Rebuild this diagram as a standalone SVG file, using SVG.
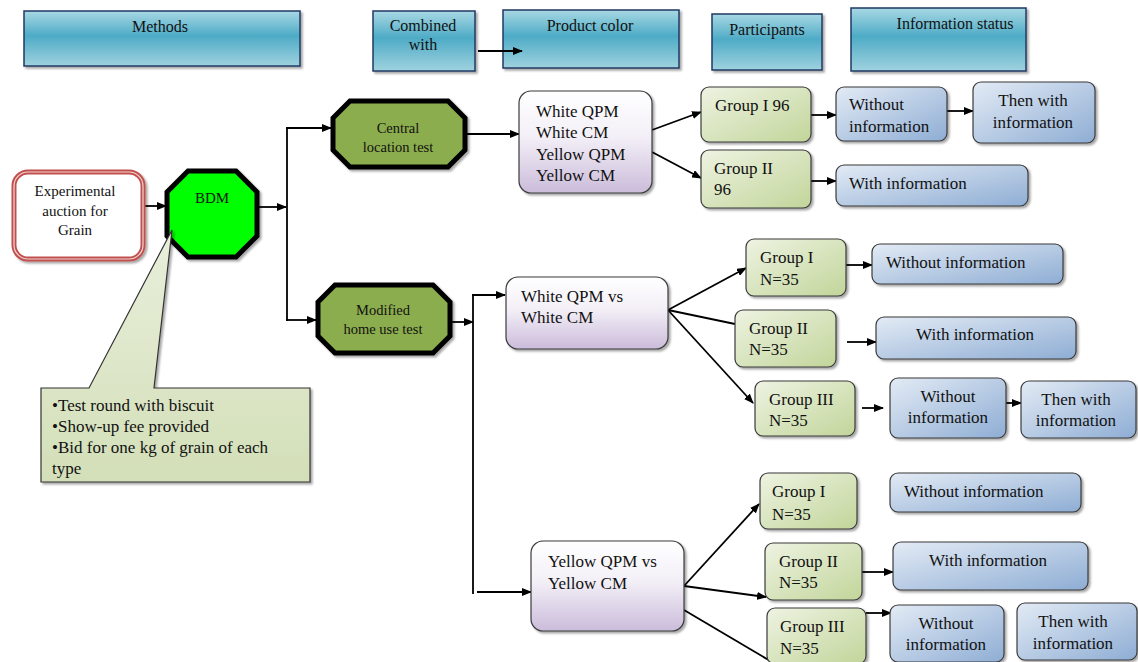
<svg xmlns="http://www.w3.org/2000/svg" width="1138" height="662" viewBox="0 0 1138 662">
<defs>
<linearGradient id="gHead" x1="0" y1="0" x2="0" y2="1">
<stop offset="0" stop-color="#a8d8e4"/><stop offset="0.45" stop-color="#4eabc6"/><stop offset="1" stop-color="#9fd2df"/>
</linearGradient>
<linearGradient id="gProd" x1="0" y1="0" x2="0" y2="1">
<stop offset="0" stop-color="#ffffff"/><stop offset="0.45" stop-color="#f3eff7"/><stop offset="1" stop-color="#cbbcdb"/>
</linearGradient>
<linearGradient id="gGrp" x1="0" y1="0" x2="1" y2="1">
<stop offset="0" stop-color="#eef3e2"/><stop offset="1" stop-color="#c2d59a"/>
</linearGradient>
<linearGradient id="gInfo" x1="0" y1="0" x2="1" y2="1">
<stop offset="0" stop-color="#e3ebf5"/><stop offset="1" stop-color="#8eadd4"/>
</linearGradient>
<linearGradient id="gCall" x1="0" y1="0" x2="0" y2="1">
<stop offset="0" stop-color="#e9efdc"/><stop offset="1" stop-color="#d3dfb8"/>
</linearGradient>
<filter id="sh" x="-10%" y="-10%" width="125%" height="130%">
<feDropShadow dx="2" dy="2" stdDeviation="1.2" flood-color="#000" flood-opacity="0.35"/>
</filter>
<marker id="ah" markerWidth="10" markerHeight="8" refX="9" refY="4" orient="auto" markerUnits="userSpaceOnUse">
<path d="M0,0 L10,4 L0,8 Z" fill="#000"/>
</marker>
</defs>
<style>
text{font-family:"Liberation Serif","Times New Roman",serif;fill:#111;}
.hd{fill:url(#gHead);stroke:#1f3864;stroke-width:1.5;filter:url(#sh);}
.hdt{font-size:16px;text-anchor:middle;}
.prod{fill:url(#gProd);stroke:#3a3a3a;stroke-width:1.2;filter:url(#sh);}
.grp{fill:url(#gGrp);stroke:#3a3a3a;stroke-width:1.2;filter:url(#sh);}
.info{fill:url(#gInfo);stroke:#3a3a3a;stroke-width:1.2;filter:url(#sh);}
.t{font-size:17px;}
.tm{font-size:17px;text-anchor:middle;}
.oct{fill:#8cad4e;stroke:#000;stroke-width:5;stroke-linejoin:miter;filter:url(#sh);}
.ot{font-size:14.5px;text-anchor:middle;}
.c{fill:none;stroke:#000;stroke-width:1.8;}
.ca{fill:none;stroke:#000;stroke-width:1.8;marker-end:url(#ah);}
.ex{font-size:15px;text-anchor:middle;}
.cl{font-size:17px;}
</style>

<g id="h-methods"><rect class="hd" x="24" y="11" width="276" height="55"/><text class="hdt" x="160" y="32">Methods</text></g>
<g id="h-combined"><rect class="hd" x="373" y="11" width="102" height="60"/><text class="hdt" x="423" y="31">Combined</text><text class="hdt" x="423" y="50">with</text></g>
<g id="h-product"><rect class="hd" x="503" y="10" width="176" height="58"/><text class="hdt" x="590" y="31">Product color</text></g>
<g id="h-participants"><rect class="hd" x="712" y="14" width="110" height="56"/><text class="hdt" x="767" y="35">Participants</text></g>
<g id="h-info"><rect class="hd" x="851" y="8" width="175" height="63"/><text class="hdt" x="955" y="29">Information  status</text></g>

<g id="connectors">
<line class="ca" x1="478" y1="51" x2="522" y2="51"/>
<line class="ca" x1="135" y1="206" x2="166" y2="206"/>
<line class="ca" x1="258" y1="207" x2="286" y2="207"/>
<line class="c" x1="287" y1="128" x2="287" y2="321"/>
<line class="ca" x1="286" y1="128" x2="331" y2="128"/>
<line class="ca" x1="286" y1="320" x2="316" y2="320"/>
<line class="ca" x1="467" y1="134" x2="519" y2="134"/>
<line class="ca" x1="652" y1="130" x2="701" y2="112"/>
<line class="ca" x1="652" y1="152" x2="701" y2="178"/>
<line class="ca" x1="811" y1="115" x2="836" y2="115"/>
<line class="ca" x1="947" y1="111" x2="973" y2="111"/>
<line class="ca" x1="811" y1="181" x2="836" y2="181"/>
<line class="ca" x1="452" y1="322" x2="473" y2="322"/>
<line class="c" x1="473" y1="294" x2="473" y2="594"/>
<line class="ca" x1="472" y1="295" x2="505" y2="295"/>
<line class="ca" x1="477" y1="592" x2="531" y2="592"/>
<line class="ca" x1="668" y1="310" x2="746" y2="268"/>
<line class="c" x1="668" y1="310" x2="735" y2="324"/>
<line class="ca" x1="668" y1="310" x2="753" y2="403"/>
<line class="ca" x1="846" y1="265" x2="872" y2="265"/>
<line class="ca" x1="847" y1="342" x2="876" y2="342"/>
<line class="ca" x1="862" y1="408" x2="883" y2="408"/>
<line class="ca" x1="992" y1="403" x2="1021" y2="403"/>
<line class="ca" x1="684" y1="586" x2="759" y2="504"/>
<line class="ca" x1="684" y1="586" x2="766" y2="597"/>
<line class="c" x1="684" y1="610" x2="772" y2="662"/>
<line class="ca" x1="862" y1="572" x2="893" y2="572"/>
<line class="ca" x1="866" y1="613" x2="891" y2="613"/>
</g>

<g id="experimental">
<rect x="14" y="172" width="129" height="87" rx="14" fill="#fff" stroke="#c0504d" stroke-width="5" filter="url(#sh)"/>
<rect x="14" y="172" width="129" height="87" rx="14" fill="none" stroke="#f3d6d5" stroke-width="1.2"/>
<text class="ex" x="75" y="196">Experimental</text>
<text class="ex" x="75" y="216">auction for</text>
<text class="ex" x="75" y="235">Grain</text>
</g>

<g id="bdm">
<polygon points="188,171 236,171 257,192 257,236 236,257 188,257 167,236 167,192" fill="#00ff00" stroke="#000" stroke-width="5" filter="url(#sh)"/>
<text x="212" y="203" style="font-size:15px;text-anchor:middle">BDM</text>
</g>

<g id="callout">
<path d="M172,230 L154,388 L310,388 L310,482 L41,482 L41,388 L89,388 Z" fill="url(#gCall)" stroke="#333" stroke-width="1.2" filter="url(#sh)"/>
<text class="cl" x="52" y="411">•Test round  with biscuit</text>
<text class="cl" x="52" y="432">•Show-up  fee provided</text>
<text class="cl" x="52" y="453">•Bid  for one kg  of grain  of each</text>
<text class="cl" x="52" y="474">type</text>
</g>

<g id="central">
<polygon class="oct" points="350,101 448,101 465,118 465,150 448,167 350,167 333,150 333,118"/>
<text class="ot" x="398" y="133">Central</text>
<text class="ot" x="398" y="152">location test</text>
</g>

<g id="modified">
<polygon class="oct" points="335,285 433,285 450,302 450,336 433,353 335,353 318,336 318,302"/>
<text class="ot" x="383" y="315">Modified</text>
<text class="ot" x="383" y="334">home use test</text>
</g>

<g id="prod-all">
<rect class="prod" x="519" y="91" width="133" height="102" rx="12"/>
<text class="t" x="536" y="117">White QPM</text>
<text class="t" x="536" y="138">White CM</text>
<text class="t" x="536" y="160">Yellow QPM</text>
<text class="t" x="536" y="181">Yellow CM</text>
</g>

<g id="g1-96"><rect class="grp" x="701" y="87" width="110" height="55" rx="8"/><text class="t" x="715" y="111">Group I 96</text></g>
<g id="g2-96"><rect class="grp" x="701" y="150" width="110" height="58" rx="8"/><text class="t" x="714" y="174">Group II</text><text class="t" x="714" y="195">96</text></g>
<g id="c-without"><rect class="info" x="836" y="87" width="111" height="54" rx="8"/><text class="t" x="849" y="110">Without</text><text class="t" x="849" y="132">information</text></g>
<g id="c-then"><rect class="info" x="973" y="82" width="122" height="61" rx="8"/><text class="tm" x="1033" y="106">Then with</text><text class="tm" x="1033" y="128">information</text></g>
<g id="c-with"><rect class="info" x="836" y="165" width="192" height="41" rx="8"/><text class="t" x="849" y="189">With information</text></g>

<g id="prod-white">
<rect class="prod" x="506" y="277" width="162" height="72" rx="12"/>
<text class="t" x="521" y="302">White QPM vs</text>
<text class="t" x="521" y="323">White CM</text>
</g>
<g id="w-g1"><rect class="grp" x="746" y="239" width="100" height="57" rx="8"/><text class="t" x="760" y="263">Group I</text><text class="t" x="760" y="285">N=35</text></g>
<g id="w-g1-info"><rect class="info" x="872" y="244" width="191" height="40" rx="8"/><text class="t" x="886" y="268">Without information</text></g>
<g id="w-g2"><rect class="grp" x="735" y="310" width="101" height="57" rx="8"/><text class="t" x="749" y="334">Group II</text><text class="t" x="749" y="355">N=35</text></g>
<g id="w-g2-info"><rect class="info" x="876" y="317" width="200" height="42" rx="8"/><text class="tm" x="975" y="340">With information</text></g>
<g id="w-g3"><rect class="grp" x="755" y="381" width="100" height="55" rx="8"/><text class="t" x="769" y="405">Group III</text><text class="t" x="769" y="426">N=35</text></g>
<g id="w-g3-without"><rect class="info" x="890" y="378" width="116" height="60" rx="8"/><text class="tm" x="948" y="402">Without</text><text class="tm" x="948" y="423">information</text></g>
<g id="w-g3-then"><rect class="info" x="1021" y="381" width="115" height="57" rx="8"/><text class="tm" x="1076" y="405">Then with</text><text class="tm" x="1076" y="426">information</text></g>

<g id="prod-yellow">
<rect class="prod" x="531" y="541" width="153" height="90" rx="12"/>
<text class="t" x="548" y="567">Yellow QPM vs</text>
<text class="t" x="548" y="589">Yellow CM</text>
</g>
<g id="y-g1"><rect class="grp" x="760" y="473" width="97" height="56" rx="8"/><text class="t" x="772" y="497">Group I</text><text class="t" x="772" y="520">N=35</text></g>
<g id="y-g1-info"><rect class="info" x="890" y="473" width="191" height="39" rx="8"/><text class="t" x="904" y="497">Without information</text></g>
<g id="y-g2"><rect class="grp" x="765" y="543" width="97" height="57" rx="8"/><text class="t" x="779" y="567">Group II</text><text class="t" x="779" y="588">N=35</text></g>
<g id="y-g2-info"><rect class="info" x="893" y="542" width="195" height="48" rx="8"/><text class="tm" x="988" y="566">With information</text></g>
<g id="y-g3"><rect class="grp" x="767" y="608" width="99" height="56" rx="8"/><text class="t" x="780" y="632">Group III</text><text class="t" x="780" y="654">N=35</text></g>
<g id="y-g3-without"><rect class="info" x="890" y="605" width="114" height="57" rx="8"/><text class="tm" x="946" y="629">Without</text><text class="tm" x="946" y="650">information</text></g>
<g id="y-g3-then"><rect class="info" x="1017" y="603" width="120" height="57" rx="8"/><text class="tm" x="1073" y="627">Then with</text><text class="tm" x="1073" y="649">information</text></g>
</svg>
